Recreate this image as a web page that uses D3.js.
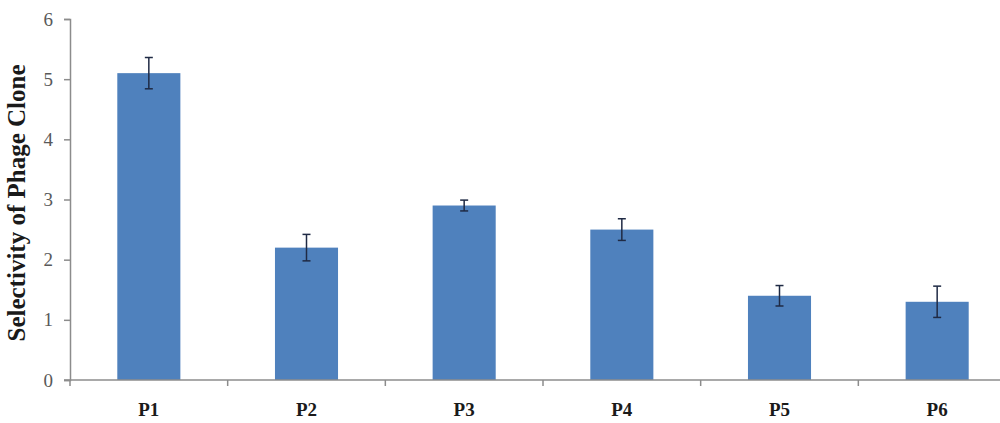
<!DOCTYPE html>
<html><head><meta charset="utf-8">
<script src="https://cdn.jsdelivr.net/npm/d3@7"></script>
<style>body{margin:0;background:#fff}svg{display:block}</style>
</head><body>
<svg id="c" width="1000" height="423"></svg>
<script>
const categories = ["P1","P2","P3","P4","P5","P6"];
const values = [5.1, 2.2, 2.9, 2.5, 1.4, 1.3];
const errors = [0.26, 0.22, 0.09, 0.18, 0.17, 0.26];
const yTicks = [0,1,2,3,4,5,6];

const serif = "'Liberation Serif', 'Times New Roman', serif";
const svg = d3.select("#c");
const x = d3.scaleBand().domain(categories).range([70, 1016]).paddingInner(0.6).paddingOuter(0.3);
const y = d3.scaleLinear().domain([0,6]).range([380, 19]);

// bars
svg.append("g").selectAll("rect").data(categories).join("rect")
  .attr("x", d => x(d)).attr("width", x.bandwidth())
  .attr("y", (d,i) => y(values[i])).attr("height", (d,i) => y(0) - y(values[i]))
  .attr("fill", "#4f81bd");

// error bars
const eg = svg.append("g").attr("stroke", "#1f2a44").attr("stroke-width", 1.5);
categories.forEach((c,i) => {
  const cx = x(c) + x.bandwidth()/2;
  const t = y(values[i] + errors[i]), b = y(values[i] - errors[i]);
  eg.append("line").attr("x1", cx).attr("x2", cx).attr("y1", t).attr("y2", b);
  eg.append("line").attr("x1", cx-4).attr("x2", cx+4).attr("y1", t).attr("y2", t);
  eg.append("line").attr("x1", cx-4).attr("x2", cx+4).attr("y1", b).attr("y2", b);
});

// y axis
const ya = svg.append("g").attr("transform", "translate(70,0)")
  .call(d3.axisLeft(y).tickValues(yTicks).tickSize(6).tickPadding(11).tickFormat(d3.format("d")));
ya.select(".domain").attr("stroke", "#8c8c8c").attr("stroke-width", 1.5);
ya.selectAll(".tick line").attr("stroke", "#8c8c8c").attr("stroke-width", 1.5);
ya.selectAll("text").style("font-family", serif).attr("font-size", 19).attr("fill", "#595959");

// x axis line + boundary ticks
const xg = svg.append("g");
xg.append("line").attr("x1", 64).attr("x2", 1016).attr("y1", y(0)).attr("y2", y(0))
  .attr("stroke", "#8c8c8c").attr("stroke-width", 1.5);
const step = x.step();
const bounds = d3.range(categories.length + 1).map(i => 70 + i * step);
xg.selectAll("line.t").data(bounds).join("line").attr("class","t")
  .attr("x1", d => d).attr("x2", d => d).attr("y1", y(0)).attr("y2", y(0) + 6)
  .attr("stroke", "#8c8c8c").attr("stroke-width", 1.5);
xg.selectAll("text").data(categories).join("text")
  .attr("x", d => x(d) + x.bandwidth()/2).attr("y", 416)
  .attr("text-anchor", "middle").style("font-family", serif)
  .attr("font-weight", "bold").attr("font-size", 19).attr("fill", "#1a1a1a").text(d => d);

// y label
svg.append("text").attr("transform", "translate(25,203) rotate(-90)")
  .attr("text-anchor", "middle").style("font-family", serif)
  .attr("font-weight", "bold").attr("font-size", 25).attr("fill", "#1a1a1a")
  .text("Selectivity of Phage Clone");
</script>
</body></html>
